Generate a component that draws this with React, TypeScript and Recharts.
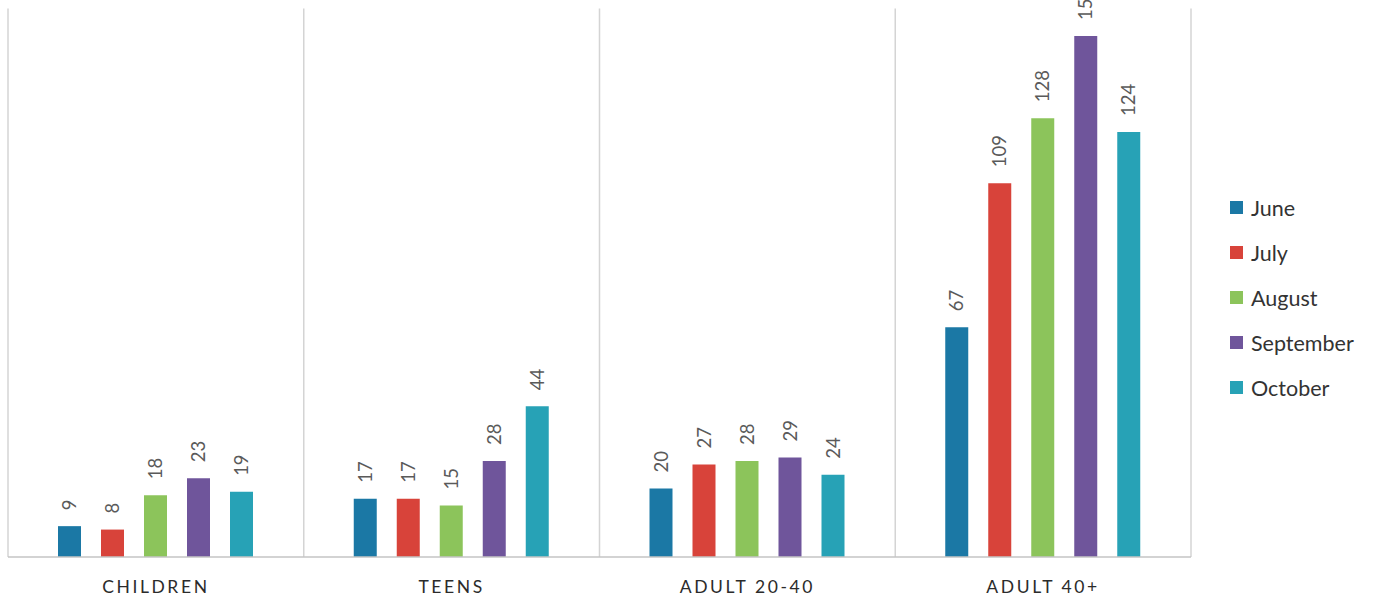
import React from "react";
import { BarChart, Bar, XAxis, YAxis, CartesianGrid, LabelList } from "recharts";

const categories = ["CHILDREN", "TEENS", "ADULT 20-40", "ADULT 40+"];
const june = [9, 17, 20, 67];
const july = [8, 17, 27, 109];
const august = [18, 15, 28, 128];
const september = [23, 28, 29, 152];
const october = [19, 44, 24, 124];

const seriesNames = ["June", "July", "August", "September", "October"];
const seriesKeys = ["june", "july", "august", "september", "october"];
const seriesColors = ["#1b78a5", "#d8433a", "#8cc45b", "#6f559b", "#27a2b6"];
const gridBoundaries = [0, 1, 2, 3, 4];

const data = categories.map((c, i) => ({
  name: c,
  june: june[i],
  july: july[i],
  august: august[i],
  september: september[i],
  october: october[i],
}));

const FONT = "Lato, 'Open Sans', sans-serif";

const ValueLabel = (props: any) => {
  const { x, y, width, value } = props;
  const cx = Number(x) + Number(width) / 2;
  const ty = Number(y) - 16;
  return (
    <text
      x={cx}
      y={ty}
      dy="0.36em"
      transform={`rotate(-90 ${cx} ${ty})`}
      textAnchor="start"
      fill="#5a5a5a"
      fontSize={18.5}
      fontFamily={FONT}
    >
      {value}
    </text>
  );
};

const CatTick = (props: any) => {
  const { x, y, payload } = props;
  return (
    <text
      x={x}
      y={Number(y) + 28}
      textAnchor="middle"
      fill="#2b2b2b"
      fontSize={17.5}
      fontFamily={FONT}
      letterSpacing={2.6}
    >
      {payload.value}
    </text>
  );
};

const gridGen = ({ offset }: any) =>
  gridBoundaries.map((b) => offset.left + (offset.width * b) / (categories.length));

export default function App() {
  return (
    <div style={{ position: "absolute", left: 0, top: 0, width: 1373, height: 601, background: "#ffffff", overflow: "hidden" }}>
      <BarChart
        width={1373}
        height={601}
        data={data}
        margin={{ top: 8.5, right: 182, bottom: 0, left: 8 }}
        barSize={23}
        barGap={20}
      >
        <CartesianGrid
          horizontal={false}
          verticalCoordinatesGenerator={gridGen}
          stroke="#d4d4d4"
          strokeWidth={1.5}
        />
        <XAxis
          dataKey="name"
          height={44}
          axisLine={{ stroke: "#c4c4c4", strokeWidth: 1.5 }}
          tickLine={false}
          tick={<CatTick />}
          interval={0}
        />
        <YAxis hide domain={[0, 160]} />
        {seriesKeys.map((k, i) => (
          <Bar key={k} dataKey={k} name={seriesNames[i]} fill={seriesColors[i]} isAnimationActive={false}>
            <LabelList dataKey={k} content={<ValueLabel />} />
          </Bar>
        ))}
      </BarChart>
      <div style={{ position: "absolute", left: 1230, top: 185 }}>
        {seriesNames.map((n, i) => (
          <div key={n} style={{ display: "flex", alignItems: "center", height: 45, fontFamily: FONT, fontSize: 21.5, color: "#333333" }}>
            <div style={{ width: 13, height: 13, background: seriesColors[i], marginRight: 8, flexShrink: 0 }} />
            <span style={{ lineHeight: "24px" }}>{n}</span>
          </div>
        ))}
      </div>
    </div>
  );
}
